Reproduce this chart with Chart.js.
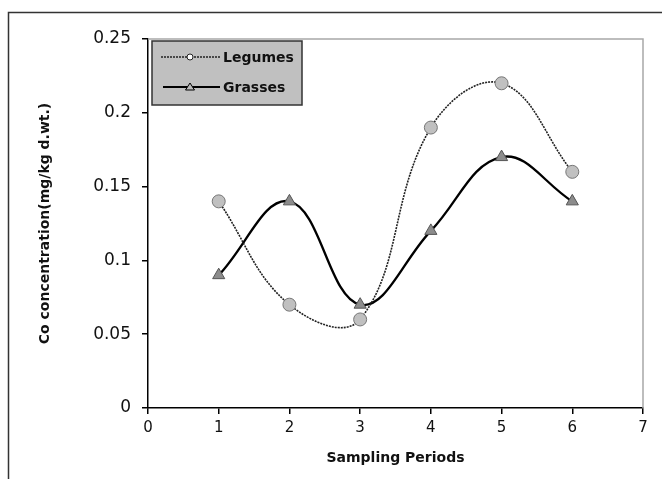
<!DOCTYPE html>
<html>
<head>
<meta charset="utf-8">
<script src="https://cdn.jsdelivr.net/npm/chart.js@4.4.0/dist/chart.umd.min.js"></script>
<style>
  html, body { margin: 0; padding: 0; background: #fff; }
  #wrap { width: 662px; height: 479px; }
</style>
</head>
<body>
<div id="wrap"><canvas id="grafico"></canvas></div>
<script>
// dados
const periodos = [1, 2, 3, 4, 5, 6];
const legumes = [0.14, 0.07, 0.06, 0.19, 0.22, 0.16];
const grasses = [0.09, 0.14, 0.07, 0.12, 0.17, 0.14];
const xTicks = [0, 1, 2, 3, 4, 5, 6, 7];
const xTickLabels = ['0', '1', '2', '3', '4', '5', '6', '7'];
const yTicks = [0, 0.05, 0.1, 0.15, 0.2, 0.25];
const yTickLabels = ['0', '0.05', '0.1', '0.15', '0.2', '0.25'];
const nomes = ['Legumes', 'Grasses'];

const fonte = "'DejaVu Sans', sans-serif";

// moldura externa, borda do plot e legenda desenhada à mão
const moldura = {
    id: 'moldura',
    beforeDraw(chart) {
        const c = chart.ctx;
        c.save();
        c.fillStyle = '#fff';
        c.fillRect(0, 0, chart.width, chart.height);
        c.strokeStyle = '#333';
        c.lineWidth = 1.5;
        c.beginPath();
        c.moveTo(8.5, chart.height);
        c.lineTo(8.5, 12.5);
        c.lineTo(chart.width, 12.5);
        c.stroke();
        c.restore();
    },
    beforeDatasetsDraw(chart) {
        const a = chart.chartArea;
        const c = chart.ctx;
        c.save();
        c.strokeStyle = '#a8a8a8';
        c.lineWidth = 1.5;
        c.beginPath();
        c.moveTo(a.left, a.top);
        c.lineTo(a.right, a.top);
        c.lineTo(a.right, a.bottom);
        c.stroke();
        c.restore();
    },
    afterDatasetsDraw(chart) {
        const c = chart.ctx;
        const a = chart.chartArea;
        const bx = a.left + 4, by = a.top + 2, bw = 150, bh = 64;
        c.save();
        c.fillStyle = '#c0c0c0';
        c.fillRect(bx, by, bw, bh);
        c.strokeStyle = '#333';
        c.lineWidth = 1.5;
        c.strokeRect(bx, by, bw, bh);

        const linhas = [by + 16, by + 46];
        const x0 = bx + 9, x1 = bx + 68, xm = bx + 38;

        // Legumes
        c.strokeStyle = '#222';
        c.lineWidth = 1.5;
        c.setLineDash([2, 1]);
        c.beginPath();
        c.moveTo(x0, linhas[0]);
        c.lineTo(x1, linhas[0]);
        c.stroke();
        c.setLineDash([]);
        c.fillStyle = '#fff';
        c.lineWidth = 1;
        c.beginPath();
        c.arc(xm, linhas[0], 3, 0, Math.PI * 2);
        c.fill();
        c.stroke();

        // Grasses
        c.strokeStyle = '#000';
        c.lineWidth = 2;
        c.beginPath();
        c.moveTo(x0 + 2, linhas[1]);
        c.lineTo(x1, linhas[1]);
        c.stroke();
        c.fillStyle = '#bbb';
        c.lineWidth = 1;
        c.beginPath();
        c.moveTo(xm, linhas[1] - 4);
        c.lineTo(xm + 4.5, linhas[1] + 3);
        c.lineTo(xm - 4.5, linhas[1] + 3);
        c.closePath();
        c.fill();
        c.stroke();

        c.fillStyle = '#111';
        c.font = 'bold 14px ' + fonte;
        c.textBaseline = 'middle';
        c.fillText(nomes[0], bx + 71, linhas[0] + 1);
        c.fillText(nomes[1], bx + 71, linhas[1] + 1);
        c.restore();
    }
};

new Chart(document.getElementById('grafico'), {
    type: 'line',
    data: {
        datasets: [
            {
                label: nomes[0],
                data: periodos.map((p, i) => ({ x: p, y: legumes[i] })),
                borderColor: '#222',
                borderWidth: 1.6,
                borderDash: [2, 1],
                tension: 0.4,
                pointStyle: 'circle',
                pointRadius: 6.5,
                pointBackgroundColor: '#c0c0c0',
                pointBorderColor: '#777',
                pointBorderWidth: 1,
                fill: false
            },
            {
                label: nomes[1],
                data: periodos.map((p, i) => ({ x: p, y: grasses[i] })),
                borderColor: '#000',
                borderWidth: 2.3,
                tension: 0.4,
                pointStyle: 'triangle',
                pointRadius: 7,
                pointBackgroundColor: '#8c8c8c',
                pointBorderColor: '#555',
                pointBorderWidth: 1,
                fill: false
            }
        ]
    },
    options: {
        responsive: true,
        maintainAspectRatio: false,
        animation: false,
        layout: { padding: { top: 39, right: 19, left: 0, bottom: 0 } },
        plugins: {
            legend: { display: false },
            tooltip: { enabled: false }
        },
        scales: {
            x: {
                type: 'linear',
                min: 0,
                max: 7,
                afterBuildTicks: s => { s.ticks = xTicks.map(v => ({ value: v })); },
                afterFit: s => { s.height = 71; },
                ticks: {
                    callback: (v, i) => xTickLabels[i],
                    color: '#111',
                    font: { family: fonte, size: 15 },
                    padding: 5,
                    maxRotation: 0
                },
                grid: { drawOnChartArea: false, tickLength: 6, color: '#000', lineWidth: 1.5 },
                border: { color: '#000', width: 1.5 },
                title: {
                    display: true,
                    text: 'Sampling Periods',
                    color: '#111',
                    font: { family: fonte, size: 14, weight: 'bold' },
                    padding: { top: 0, bottom: 12 }
                }
            },
            y: {
                min: 0,
                max: 0.25,
                afterBuildTicks: s => { s.ticks = yTicks.map(v => ({ value: v })); },
                afterFit: s => { s.width = 148; },
                ticks: {
                    callback: (v, i) => yTickLabels[i],
                    color: '#111',
                    font: { family: fonte, size: 17 },
                    padding: 11
                },
                grid: { drawOnChartArea: false, tickLength: 6, color: '#000', lineWidth: 1.5 },
                border: { color: '#000', width: 1.5 },
                title: {
                    display: true,
                    text: 'Co concentration(mg/kg d.wt.)',
                    color: '#111',
                    font: { family: fonte, size: 14, weight: 'bold' },
                    padding: { top: 37, bottom: 0 }
                }
            }
        }
    },
    plugins: [moldura]
});
</script>
</body>
</html>
